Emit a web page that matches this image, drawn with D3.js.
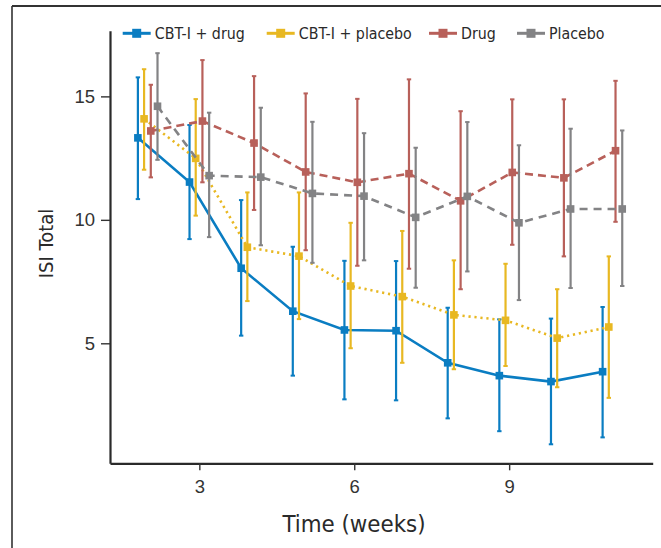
<!DOCTYPE html>
<html>
<head>
<meta charset="utf-8">
<script src="https://cdn.jsdelivr.net/npm/d3@7"></script>
<style>
  body { margin: 0; background: #fff; }
  svg { display: block; font-family: "Liberation Sans Narrow", "DejaVu Sans Condensed", "Liberation Sans", sans-serif; }
</style>
</head>
<body>
<svg id="chart" width="661" height="548"></svg>
<script>
// Data
const weeks = [2, 3, 4, 5, 6, 7, 8, 9, 10, 11];
const seriesNames = ["CBT-I + drug", "CBT-I + placebo", "Drug", "Placebo"];

const cbtDrugMean = [13.32, 11.53, 8.04, 6.30, 5.54, 5.51, 4.21, 3.69, 3.45, 3.85];
const cbtDrugLow = [10.84, 9.22, 5.31, 3.69, 2.73, 2.69, 1.96, 1.44, 0.91, 1.19];
const cbtDrugHigh = [15.77, 13.84, 10.80, 8.91, 8.34, 8.33, 6.44, 5.97, 6.00, 6.47];

const cbtPlaceboMean = [14.09, 12.49, 8.89, 8.53, 7.32, 6.89, 6.15, 5.93, 5.21, 5.66];
const cbtPlaceboLow = [12.03, 10.17, 6.71, 5.98, 4.80, 4.21, 3.95, 4.08, 3.22, 2.79];
const cbtPlaceboHigh = [16.10, 14.89, 11.11, 11.11, 9.88, 9.55, 8.36, 8.22, 7.19, 8.52];

const drugMean = [13.60, 14.00, 13.11, 11.94, 11.52, 11.87, 10.77, 11.92, 11.70, 12.80];
const drugLow = [11.72, 11.52, 10.40, 8.77, 8.14, 8.02, 7.19, 8.99, 8.52, 9.92];
const drugHigh = [15.47, 16.47, 15.82, 15.12, 14.90, 15.69, 14.40, 14.88, 14.88, 15.63];

const placeboMean = [14.60, 11.79, 11.73, 11.07, 10.96, 10.10, 10.95, 9.88, 10.44, 10.44];
const placeboLow = [12.43, 9.30, 8.97, 8.26, 8.36, 7.25, 7.91, 6.75, 7.24, 7.32];
const placeboHigh = [16.75, 14.34, 14.54, 13.97, 13.51, 12.92, 13.96, 13.02, 13.69, 13.62];

const xTicks = [3, 6, 9];
const yTicks = [5, 10, 15];

// Series styling
const series = [
  { name: seriesNames[0], mean: cbtDrugMean, low: cbtDrugLow, high: cbtDrugHigh, color: "#0a7dc2", dash: null, offset: -0.19 },
  { name: seriesNames[1], mean: cbtPlaceboMean, low: cbtPlaceboLow, high: cbtPlaceboHigh, color: "#e8b822", dash: "2.2,3.8", offset: -0.07 },
  { name: seriesNames[2], mean: drugMean, low: drugLow, high: drugHigh, color: "#b8605a", dash: "8,5", offset: 0.06 },
  { name: seriesNames[3], mean: placeboMean, low: placeboLow, high: placeboHigh, color: "#838385", dash: "8,6", offset: 0.19 },
];

const svg = d3.select("#chart");

// Outer frame (top + left only)
svg.append("line").attr("x1", 12).attr("x2", 661).attr("y1", 6).attr("y2", 6)
  .attr("stroke", "#333").attr("stroke-width", 1.8);
svg.append("line").attr("x1", 12).attr("x2", 12).attr("y1", 6).attr("y2", 548)
  .attr("stroke", "#333").attr("stroke-width", 1.6);

// Scales
const xScale = d3.scaleLinear().domain([1.27, 11.78]).range([110, 652.7]);
const yScale = d3.scaleLinear().domain([0.14, 17.66]).range([463.3, 30.7]);

// Axes
const xAxis = d3.axisBottom(xScale).tickValues(xTicks).tickSize(7).tickPadding(10).tickSizeOuter(0);
const gx = svg.append("g").attr("transform", "translate(0,463.3)").call(xAxis);

const yAxis = d3.axisLeft(yScale).tickValues(yTicks).tickSize(9).tickPadding(6).tickSizeOuter(0);
const gy = svg.append("g").attr("transform", "translate(110,0)").call(yAxis);

[gx, gy].forEach((g) => {
  g.select(".domain").attr("stroke", "#2a2a2a").attr("stroke-width", 2.2);
  g.selectAll(".tick line").attr("stroke", "#333").attr("stroke-width", 1.4);
  g.selectAll(".tick text")
    .attr("fill", "#333")
    .style("font-size", "18.5px")
    .style("font-family", "inherit");
});

// Axis titles
svg.append("text")
  .attr("x", 354)
  .attr("y", 531.5)
  .attr("text-anchor", "middle")
  .attr("fill", "#2a2a2a")
  .style("font-size", "23.8px")
  .text("Time (weeks)");

svg.append("text")
  .attr("transform", "translate(53,243.5) rotate(-90)")
  .attr("text-anchor", "middle")
  .attr("fill", "#2a2a2a")
  .style("font-size", "20px")
  .text("ISI Total");

// Series
const xPos = (s, i) => xScale(weeks[i] + s.offset);

series.forEach((s) => {
  const g = svg.append("g");

  // Error bars
  weeks.forEach((w, i) => {
    const x = xPos(s, i);
    g.append("line")
      .attr("x1", x).attr("x2", x)
      .attr("y1", yScale(s.low[i])).attr("y2", yScale(s.high[i]))
      .attr("stroke", s.color).attr("stroke-width", 2.2);
    [s.low[i], s.high[i]].forEach((v) => {
      g.append("line")
        .attr("x1", x - 2.2).attr("x2", x + 2.2)
        .attr("y1", yScale(v)).attr("y2", yScale(v))
        .attr("stroke", s.color).attr("stroke-width", 2);
    });
  });

  // Line
  const line = d3.line()
    .x((d, i) => xPos(s, i))
    .y((d) => yScale(d));
  g.append("path")
    .datum(s.mean)
    .attr("fill", "none")
    .attr("stroke", s.color)
    .attr("stroke-width", 2.6)
    .attr("stroke-dasharray", s.dash)
    .attr("d", line);

  // Markers
  g.selectAll("rect")
    .data(s.mean)
    .join("rect")
    .attr("x", (d, i) => xPos(s, i) - 3.8)
    .attr("y", (d) => yScale(d) - 3.8)
    .attr("width", 7.6)
    .attr("height", 7.6)
    .attr("fill", s.color);
});

// Legend
const legendX = [122.7, 266.7, 429, 517];
const legend = svg.append("g").attr("transform", "translate(0,33.3)");
series.forEach((s, i) => {
  const lg = legend.append("g").attr("transform", `translate(${legendX[i]},0)`);
  lg.append("line").attr("x1", 0).attr("x2", 28).attr("y1", 0).attr("y2", 0)
    .attr("stroke", s.color).attr("stroke-width", 3);
  lg.append("rect").attr("x", 9.5).attr("y", -4.5).attr("width", 9).attr("height", 9)
    .attr("fill", s.color);
  lg.append("text")
    .attr("x", 32)
    .attr("y", 0)
    .attr("dy", "0.36em")
    .attr("fill", "#2a2a2a")
    .style("font-size", "15.8px")
    .text(s.name);
});
</script>
</body>
</html>
